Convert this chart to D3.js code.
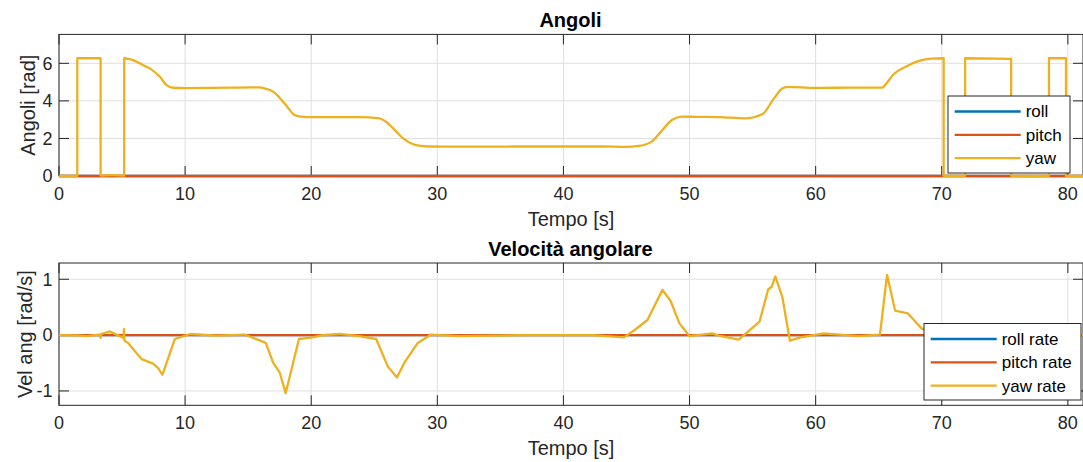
<!DOCTYPE html>
<html>
<head>
<meta charset="utf-8">
<script src="https://cdn.jsdelivr.net/npm/d3@7"></script>
<style>
  body { margin: 0; background: #fff; }
  text { font-family: "Liberation Sans", Arial, Helvetica, sans-serif; }
</style>
</head>
<body>
<div id="chart"></div>
<script>
// x ticks shared by both panels
const timeTicks = [0, 10, 20, 30, 40, 50, 60, 70, 80];
const angleTicks = [0, 2, 4, 6];
const rateTicks = [-1, 0, 1];

// roll / pitch stay at zero for the whole run
const rollAngle = [[0, 0], [81.2, 0]];
const pitchAngle = [[0, 0], [81.2, 0]];

// yaw angle [t, rad] (wraps between 0 and 2pi)
const yawAngle = [
  [0, 0.01], [1.45, 0.01], [1.45, 6.27], [3.3, 6.27], [3.3, 0.02], [4.2, 0.05], [5.17, 0.02],
  [5.17, 6.27], [5.88, 6.17], [6.68, 5.9], [7.2, 5.73], [8.0, 5.28], [8.53, 4.84], [9.05, 4.7],
  [10, 4.68], [12, 4.69], [14, 4.71], [15.9, 4.72], [16.5, 4.63], [17.0, 4.48], [17.3, 4.31],
  [17.7, 4.0], [18.1, 3.69], [18.6, 3.28], [19.2, 3.16], [20, 3.13], [22, 3.14], [23.8, 3.14],
  [25.4, 3.07], [26.0, 2.85], [26.5, 2.54], [27.3, 2.0], [28.3, 1.65], [29.4, 1.57], [32, 1.56],
  [36, 1.57], [40, 1.57], [43, 1.57], [44.9, 1.55], [46.0, 1.6], [47.0, 1.83], [47.85, 2.45],
  [48.6, 2.98], [49.4, 3.16], [50.5, 3.15], [52.3, 3.14], [54.4, 3.07], [55.8, 3.3], [56.6, 4.04],
  [57.35, 4.66], [57.75, 4.75], [60, 4.69], [62.9, 4.71], [65.3, 4.71], [65.5, 4.84], [66.2, 5.43],
  [67.1, 5.81], [68.2, 6.13], [69.2, 6.25], [70.15, 6.27], [70.15, 0.01], [71.85, 0.01],
  [71.85, 6.27], [75.5, 6.24], [75.5, 0.01], [78.5, 0.01], [78.5, 6.27], [79.85, 6.27],
  [79.85, 0.01], [81.2, 0.01]
];

const rollRate = [[0, 0], [81.2, 0]];
const pitchRate = [[0, 0], [81.2, 0]];

// yaw rate [t, rad/s]
const yawRate = [
  [0, 0], [1.4, -0.005], [2.2, -0.02], [3.2, 0.01], [3.3, -0.05], [3.35, 0.02], [4.04, 0.065],
  [5.1, -0.05], [5.15, 0.11], [5.19, -0.1], [5.48, -0.14], [6.55, -0.43], [7.47, -0.51],
  [7.86, -0.59], [8.2, -0.71], [9.18, -0.07], [10.4, 0.02], [12.5, -0.01], [14.7, 0.01],
  [16.4, -0.14], [16.97, -0.49], [17.5, -0.67], [17.97, -1.04], [19.03, -0.07], [20.1, -0.04],
  [20.9, 0], [22.25, 0.02], [23.8, -0.02], [25.15, -0.07], [26.07, -0.56], [26.8, -0.76],
  [27.4, -0.49], [28.45, -0.14], [29.5, 0.01], [31.75, -0.02], [37.0, 0], [42.3, 0],
  [44.8, -0.04], [45.7, 0.1], [46.66, 0.27], [47.85, 0.81], [48.5, 0.61], [49.2, 0.21],
  [50.0, -0.02], [51.8, 0.03], [52.3, -0.01], [53.9, -0.08], [55.55, 0.24], [56.24, 0.82],
  [56.5, 0.86], [56.8, 1.05], [57.35, 0.69], [57.96, -0.1], [58.8, -0.04], [60.65, 0.03],
  [63.4, -0.02], [65.1, 0.01], [65.66, 1.08], [66.3, 0.44], [67.3, 0.39], [68.4, 0.12],
  [69.5, 0], [81.2, 0]
];

const colors = { roll: "#0072BD", pitch: "#D95319", yaw: "#EDB120" };

const W = 1083, H = 462;
const svg = d3.select("#chart").append("svg")
  .attr("width", W)
  .attr("height", H);

svg.append("rect").attr("width", W).attr("height", H).attr("fill", "#fff");

const axisColor = "#262626";
const gridColor = "#dfdfdf";
const tickLen = 10;

// smooth path that keeps the vertical wrap jumps sharp:
// split where two points share the same t, smooth each run, join with straight L
function smoothWithJumps(data, x, y) {
  const runs = [];
  let cur = [data[0]];
  for (let i = 1; i < data.length; i++) {
    if (data[i][0] === data[i - 1][0]) {
      runs.push(cur);
      cur = [data[i]];
    } else {
      cur.push(data[i]);
    }
  }
  runs.push(cur);
  const gen = d3.line().x(d => x(d[0])).y(d => y(d[1])).curve(d3.curveMonotoneX);
  return runs.map((r, i) => {
    const p = r.length > 1 ? gen(r) : `M${x(r[0][0])},${y(r[0][1])}`;
    return i === 0 ? p : "L" + p.slice(1);
  }).join("");
}

function drawPanel(cfg) {
  const x = d3.scaleLinear().domain([0, 81.2]).range([cfg.left, cfg.right]);
  const y = d3.scaleLinear().domain(cfg.yDomain).range([cfg.bottom, cfg.top]);
  const g = svg.append("g");

  // grid
  g.selectAll(".vgrid").data(timeTicks).join("line")
    .attr("x1", d => x(d)).attr("x2", d => x(d))
    .attr("y1", cfg.top).attr("y2", cfg.bottom)
    .attr("stroke", gridColor).attr("stroke-width", 1);
  g.selectAll(".hgrid").data(cfg.yTicks).join("line")
    .attr("x1", cfg.left).attr("x2", cfg.right)
    .attr("y1", d => y(d)).attr("y2", d => y(d))
    .attr("stroke", gridColor).attr("stroke-width", 1);

  // box
  g.append("rect")
    .attr("x", cfg.left).attr("y", cfg.top)
    .attr("width", cfg.right - cfg.left).attr("height", cfg.bottom - cfg.top)
    .attr("fill", "none").attr("stroke", axisColor).attr("stroke-width", 1);

  // ticks inward, all four sides
  timeTicks.forEach(t => {
    g.append("line").attr("x1", x(t)).attr("x2", x(t))
      .attr("y1", cfg.bottom).attr("y2", cfg.bottom - tickLen)
      .attr("stroke", axisColor);
    g.append("line").attr("x1", x(t)).attr("x2", x(t))
      .attr("y1", cfg.top).attr("y2", cfg.top + tickLen)
      .attr("stroke", axisColor);
  });
  cfg.yTicks.forEach(v => {
    g.append("line").attr("x1", cfg.left).attr("x2", cfg.left + tickLen)
      .attr("y1", y(v)).attr("y2", y(v)).attr("stroke", axisColor);
    g.append("line").attr("x1", cfg.right).attr("x2", cfg.right - tickLen)
      .attr("y1", y(v)).attr("y2", y(v)).attr("stroke", axisColor);
  });

  // clip for data lines (a little slack so lines on the limits keep their width)
  const clipId = "clip" + cfg.id;
  svg.append("clipPath").attr("id", clipId)
    .append("rect")
    .attr("x", cfg.left - 2).attr("y", cfg.top - 2)
    .attr("width", cfg.right - cfg.left + 4).attr("height", cfg.bottom - cfg.top + 4);

  const line = d3.line().x(d => x(d[0])).y(d => y(d[1]));
  const lines = g.append("g").attr("clip-path", `url(#${clipId})`);
  cfg.series.forEach(s => {
    lines.append("path")
      .attr("fill", "none")
      .attr("stroke", s.color)
      .attr("stroke-width", 2.3)
      .attr("stroke-linejoin", "round")
      .attr("d", s.smooth ? smoothWithJumps(s.data, x, y) : line(s.data));
  });

  // tick labels
  g.selectAll(".xlab").data(timeTicks).join("text")
    .attr("x", d => x(d))
    .attr("y", cfg.bottom + 24)
    .attr("text-anchor", "middle")
    .style("font-size", "18px")
    .attr("fill", axisColor)
    .text(d => d);
  g.selectAll(".ylab").data(cfg.yTicks).join("text")
    .attr("x", cfg.left - 6.5)
    .attr("y", d => y(d))
    .attr("dy", "0.35em")
    .attr("text-anchor", "end")
    .style("font-size", "18px")
    .attr("fill", axisColor)
    .text(d => d);

  // axis labels and title
  g.append("text")
    .attr("x", (cfg.left + cfg.right) / 2)
    .attr("y", cfg.bottom + 50)
    .attr("text-anchor", "middle")
    .style("font-size", "20px")
    .attr("fill", axisColor)
    .text("Tempo [s]");

  g.append("text")
    .attr("transform", `translate(${cfg.ylabelX},${(cfg.top + cfg.bottom) / 2}) rotate(-90)`)
    .attr("text-anchor", "middle")
    .style("font-size", "20px")
    .attr("fill", axisColor)
    .text(cfg.ylabel);

  g.append("text")
    .attr("x", (cfg.left + cfg.right) / 2 - 0.5)
    .attr("y", cfg.top - 7)
    .attr("text-anchor", "middle")
    .style("font-size", "20px")
    .style("font-weight", "bold")
    .attr("fill", "#000")
    .text(cfg.title);

  // legend
  const lg = g.append("g");
  lg.append("rect")
    .attr("x", cfg.legend.x).attr("y", cfg.legend.y)
    .attr("width", cfg.legend.w).attr("height", cfg.legend.h)
    .attr("fill", "#fff").attr("stroke", axisColor).attr("stroke-width", 1);
  cfg.series.forEach((s, i) => {
    const ry = cfg.legend.y + 15.5 + i * 23.3;
    lg.append("line")
      .attr("x1", cfg.legend.x + 6.7).attr("x2", cfg.legend.x + 72.7)
      .attr("y1", ry).attr("y2", ry)
      .attr("stroke", s.color).attr("stroke-width", 2.3);
    lg.append("text")
      .attr("x", cfg.legend.x + 77.7)
      .attr("y", ry)
      .attr("dy", "0.35em")
      .style("font-size", "17px")
      .attr("fill", "#000")
      .text(s.name);
  });
}

drawPanel({
  id: "top", left: 59, right: 1083, top: 34.4, bottom: 176,
  yDomain: [0, 7.54], yTicks: angleTicks,
  title: "Angoli", ylabel: "Angoli [rad]", ylabelX: 35,
  legend: { x: 948, y: 96, w: 122, h: 77 },
  series: [
    { name: "roll", color: colors.roll, data: rollAngle },
    { name: "pitch", color: colors.pitch, data: pitchAngle },
    { name: "yaw", color: colors.yaw, data: yawAngle, smooth: true }
  ]
});

drawPanel({
  id: "bottom", left: 59, right: 1083, top: 263, bottom: 405.3,
  yDomain: [-1.257, 1.291], yTicks: rateTicks,
  title: "Velocità angolare", ylabel: "Vel ang [rad/s]", ylabelX: 32,
  legend: { x: 924, y: 323.5, w: 157, h: 76.5 },
  series: [
    { name: "roll rate", color: colors.roll, data: rollRate },
    { name: "pitch rate", color: colors.pitch, data: pitchRate },
    { name: "yaw rate", color: colors.yaw, data: yawRate }
  ]
});
</script>
</body>
</html>
